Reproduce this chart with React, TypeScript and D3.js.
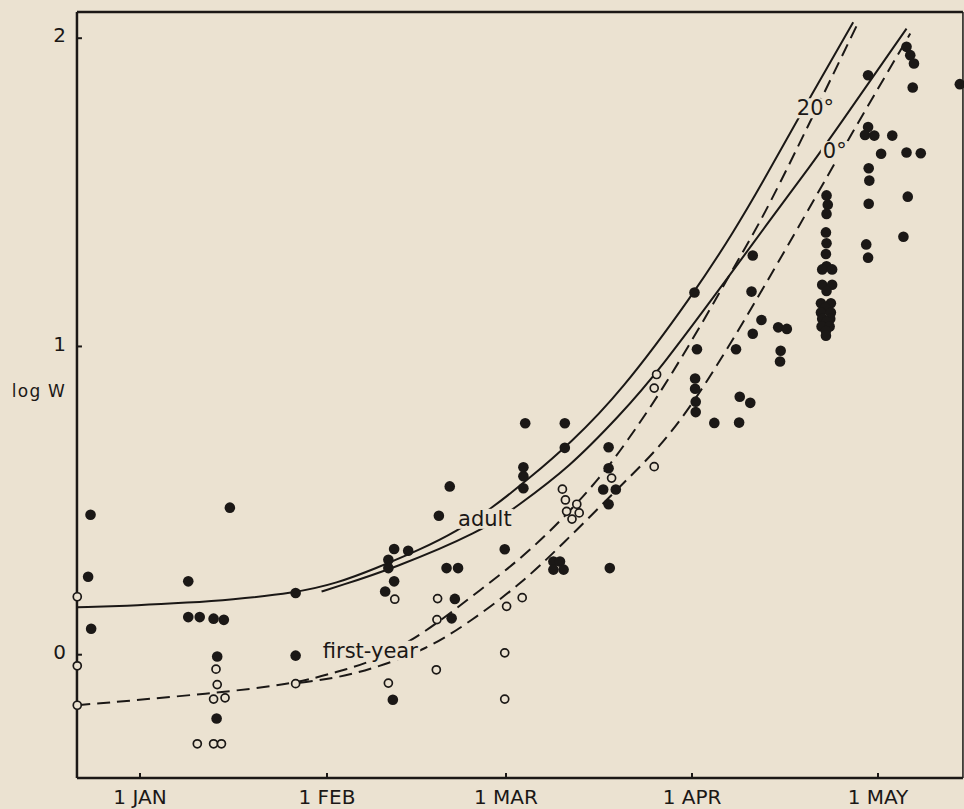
import React from 'react'
import * as d3 from 'd3'

// x in days from 1 Jan (negative = late Dec), y = log W
const monthTicks = [0, 31, 59, 90, 120]
const monthLabels = ['1 JAN', '1 FEB', '1 MAR', '1 APR', '1 MAY']
const logTicks = [0, 1, 2]

// adult (filled circles)
const adult: [number, number][] = [
  [-8.2, 0.454], [-8.6, 0.253], [-8.1, 0.084],
  [14.9, 0.477], [8.0, 0.238], [8.0, 0.122], [9.9, 0.122], [12.2, 0.117], [13.9, 0.113],
  [12.8, -0.006], [12.7, -0.207], [25.8, 0.2], [25.8, -0.003],
  [41.5, 0.343], [43.7, 0.337], [40.6, 0.308], [40.6, 0.281], [41.5, 0.238], [40.1, 0.205],
  [51.0, 0.181], [50.5, 0.118], [41.3, -0.146], [49.7, 0.281], [51.5, 0.281], [50.2, 0.546],
  [48.5, 0.451], [58.8, 0.342],
  [62.2, 0.751], [68.8, 0.751], [68.8, 0.671], [61.9, 0.608], [61.9, 0.579], [61.9, 0.54],
  [66.9, 0.302], [68.0, 0.302], [66.9, 0.276], [68.6, 0.276], [76.3, 0.281],
  [76.1, 0.673], [76.1, 0.605], [75.2, 0.536], [77.3, 0.536], [76.1, 0.488],
  [90.4, 1.175], [99.8, 1.295], [99.6, 1.178], [101.2, 1.086], [99.8, 1.041], [103.9, 1.062],
  [105.3, 1.057], [104.3, 0.986], [104.2, 0.951], [90.8, 0.991], [97.1, 0.991], [90.5, 0.896],
  [90.5, 0.863], [90.6, 0.821], [90.6, 0.787], [97.7, 0.837], [99.4, 0.817], [93.6, 0.752], [97.6, 0.753],
  [111.7, 1.49], [111.9, 1.46], [111.7, 1.43], [111.6, 1.37], [111.7, 1.335], [111.6, 1.3],
  [111.7, 1.26], [111.0, 1.25], [112.6, 1.25], [111.0, 1.2], [112.6, 1.2], [111.7, 1.18],
  [110.8, 1.14], [112.4, 1.14], [111.5, 1.125], [110.8, 1.11], [112.4, 1.11], [111.0, 1.09],
  [112.3, 1.09], [111.7, 1.08], [110.9, 1.065], [112.2, 1.065], [111.6, 1.05], [111.6, 1.035],
  [118.4, 1.88], [124.6, 1.972], [125.2, 1.945], [125.8, 1.918], [125.6, 1.84], [133.2, 1.851],
  [118.4, 1.712], [117.9, 1.686], [119.4, 1.684], [122.3, 1.684], [120.5, 1.625], [124.6, 1.629],
  [126.9, 1.627], [118.5, 1.578], [118.6, 1.538], [118.5, 1.463], [124.8, 1.486], [124.1, 1.356],
  [118.1, 1.331], [118.4, 1.288],
]

// first-year (open circles)
const firstYear: [number, number][] = [
  [-10.4, 0.188], [-10.4, -0.036], [-10.4, -0.164],
  [12.6, -0.047], [12.8, -0.097], [12.2, -0.144], [14.1, -0.14], [9.5, -0.289], [12.2, -0.289], [13.5, -0.289],
  [25.8, -0.094],
  [41.6, 0.18], [48.3, 0.182], [48.2, 0.114], [48.1, -0.049], [40.6, -0.092],
  [59.1, 0.157], [61.7, 0.185], [58.8, 0.006], [58.8, -0.144],
  [68.4, 0.537], [68.9, 0.502], [70.8, 0.488], [69.1, 0.465], [71.2, 0.46], [70.0, 0.44],
  [76.6, 0.573], [84.1, 0.909], [83.7, 0.865], [83.7, 0.61],
]

// fitted curves
const adult20: [number, number][] = [
  [-10.4, 0.154], [0, 0.16], [8.0, 0.169], [14.75, 0.178], [25.7, 0.2], [32.6, 0.232], [38.5, 0.279],
  [45.5, 0.34], [51.3, 0.4], [56.8, 0.475], [63, 0.574], [69.7, 0.686], [78, 0.848], [90.4, 1.174],
  [96.9, 1.378], [101.0, 1.518], [107.4, 1.75], [116.0, 2.052],
]
const adult0: [number, number][] = [
  [30.1, 0.205], [32.6, 0.221], [41.3, 0.279], [55.2, 0.4], [60.8, 0.481], [69.7, 0.61], [78.0, 0.778],
  [84.1, 0.91], [98.5, 1.297], [101.0, 1.367], [109.8, 1.605], [112.8, 1.69], [124.6, 2.031],
]
const first20: [number, number][] = [
  [-10.4, -0.164], [12.4, -0.125], [25.8, -0.094], [32.6, -0.055], [38.2, -0.023], [45.9, 0.065],
  [53.4, 0.185], [61.3, 0.308], [68.0, 0.431], [74.7, 0.574], [79.1, 0.69], [84.7, 0.849], [91.3, 1.063],
  [97.7, 1.29], [101.5, 1.421], [107.4, 1.66], [116.6, 2.042],
]
const first0: [number, number][] = [
  [26.5, -0.091], [32.6, -0.075], [38.2, -0.045], [46.5, 0.016], [53.4, 0.107], [61.3, 0.227],
  [68.0, 0.35], [79.1, 0.567], [84.7, 0.675], [90.2, 0.816], [95.6, 0.989], [101.0, 1.172],
  [106.6, 1.367], [115.5, 1.682], [125.2, 2.015],
]

const paper = '#ebe2d1'
const ink = '#1b1816'
const font = 'DejaVu Sans, sans-serif'

export default function App() {
  const ref = React.useRef<SVGSVGElement>(null)

  React.useEffect(() => {
    const svg = d3.select(ref.current)
    svg.selectAll('*').remove()

    // hand drawn month spacing, so one segment per month
    const x = d3.scaleLinear().domain(monthTicks).range([140, 327, 506, 692, 878])
    const y = d3.scaleLinear().domain([-0.4, 2.085]).range([778, 12])
    const left = x(-10.45)
    const right = x(133.7)
    const top = y(2.085)
    const bottom = y(-0.4)

    svg.append('rect').attr('width', 964).attr('height', 809).attr('fill', paper)

    const line = d3.line<[number, number]>()
      .x(d => x(d[0]))
      .y(d => y(d[1]))
      .curve(d3.curveBasis)

    const curves = [
      { data: adult20, dash: null },
      { data: adult0, dash: null },
      { data: first20, dash: '13,7' },
      { data: first0, dash: '13,7' },
    ]
    svg.selectAll('.curve')
      .data(curves)
      .enter()
      .append('path')
      .attr('class', 'curve')
      .attr('d', d => line(d.data))
      .attr('fill', 'none')
      .attr('stroke', ink)
      .attr('stroke-width', 2)
      .attr('stroke-dasharray', d => d.dash)

    // labels in the plot, with a paper-coloured patch that breaks the lines
    const addLabel = (text: string, day: number, logw: number) => {
      const g = svg.append('g')
      const t = g.append('text')
        .attr('x', x(day))
        .attr('y', y(logw))
        .attr('font-family', font)
        .attr('font-size', 21)
        .attr('fill', ink)
        .text(text)
      const bb = (t.node() as SVGTextElement).getBBox()
      g.insert('rect', 'text')
        .attr('x', bb.x - 2)
        .attr('y', bb.y + 2)
        .attr('width', bb.width + 4)
        .attr('height', bb.height - 4)
        .attr('fill', paper)
    }
    addLabel('adult', 51.5, 0.418)
    addLabel('first-year', 30.3, -0.01)
    addLabel('20°', 106.9, 1.75)
    addLabel('0°', 111.1, 1.611)

    // frame
    svg.append('line').attr('x1', left).attr('x2', right).attr('y1', top).attr('y2', top)
      .attr('stroke', ink).attr('stroke-width', 2.5)
    svg.append('line').attr('x1', left).attr('x2', right).attr('y1', bottom).attr('y2', bottom)
      .attr('stroke', ink).attr('stroke-width', 2.5)
    svg.append('line').attr('x1', left).attr('x2', left).attr('y1', top).attr('y2', bottom)
      .attr('stroke', ink).attr('stroke-width', 2.5)
    svg.append('line').attr('x1', right).attr('x2', right).attr('y1', top).attr('y2', bottom)
      .attr('stroke', ink).attr('stroke-width', 1.5)

    // x ticks
    svg.selectAll('.xtick')
      .data(monthTicks)
      .enter()
      .append('line')
      .attr('x1', d => x(d)).attr('x2', d => x(d))
      .attr('y1', bottom).attr('y2', bottom - 5)
      .attr('stroke', ink).attr('stroke-width', 2)
    svg.selectAll('.xlabel')
      .data(monthTicks)
      .enter()
      .append('text')
      .attr('x', d => x(d))
      .attr('y', 804)
      .attr('text-anchor', 'middle')
      .attr('font-family', font)
      .attr('font-size', 20)
      .attr('fill', ink)
      .text((d, i) => monthLabels[i])

    // y ticks
    svg.selectAll('.ytick')
      .data(logTicks)
      .enter()
      .append('line')
      .attr('x1', left).attr('x2', left + 5)
      .attr('y1', d => y(d)).attr('y2', d => y(d))
      .attr('stroke', ink).attr('stroke-width', 2)
    svg.selectAll('.ylabel')
      .data(logTicks)
      .enter()
      .append('text')
      .attr('x', 66)
      .attr('y', d => y(d) - 3)
      .attr('dy', '0.36em')
      .attr('text-anchor', 'end')
      .attr('font-family', font)
      .attr('font-size', 20)
      .attr('fill', ink)
      .text(d => d)

    svg.append('text')
      .attr('x', 66)
      .attr('y', 397)
      .attr('text-anchor', 'end')
      .attr('font-family', font)
      .attr('font-size', 17)
      .attr('letter-spacing', 1.2)
      .attr('fill', ink)
      .text('log W')

    // points
    svg.selectAll('.open')
      .data(firstYear)
      .enter()
      .append('circle')
      .attr('cx', d => x(d[0]))
      .attr('cy', d => y(d[1]))
      .attr('r', 4)
      .attr('fill', paper)
      .attr('stroke', ink)
      .attr('stroke-width', 1.7)
    svg.selectAll('.filled')
      .data(adult)
      .enter()
      .append('circle')
      .attr('cx', d => x(d[0]))
      .attr('cy', d => y(d[1]))
      .attr('r', 5.3)
      .attr('fill', ink)
  }, [])

  return (
    <svg ref={ref} width={964} height={809} style={{ position: 'absolute', left: 0, top: 0 }} />
  )
}
